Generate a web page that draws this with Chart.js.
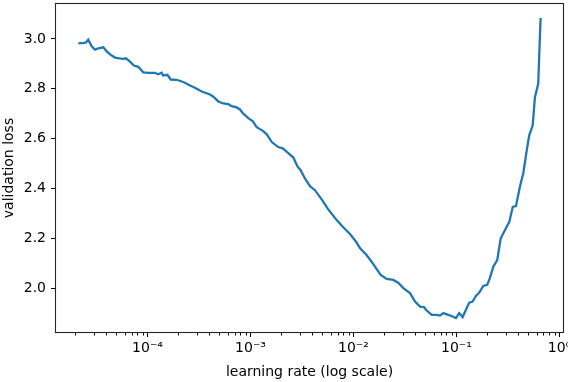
<!DOCTYPE html>
<html>
<head>
<meta charset="utf-8">
<script src="https://cdn.jsdelivr.net/npm/chart.js@4.4.1/dist/chart.umd.min.js"></script>
<style>
  html, body { margin: 0; padding: 0; background: #fff; }
  #lrChart { display: block; }
</style>
</head>
<body>
<canvas id="lrChart" width="568" height="382"></canvas>
<script>
// values
const learningRates = [
  2.13e-5, 2.42e-5, 2.53e-5, 2.66e-5, 2.87e-5, 3.09e-5, 3.33e-5, 3.72e-5, 4.02e-5, 4.33e-5,
  4.84e-5, 5.33e-5, 5.83e-5, 6.18e-5, 6.76e-5, 7.39e-5, 8.14e-5, 9.10e-5, 1.02e-4, 1.18e-4,
  1.27e-4, 1.37e-4, 1.42e-4, 1.56e-4, 1.68e-4, 1.92e-4, 2.15e-4, 2.31e-4, 2.59e-4, 2.89e-4,
  3.36e-4, 4.05e-4, 4.36e-4, 4.87e-4, 5.44e-4, 6.09e-4, 6.57e-4, 7.34e-4, 7.91e-4, 8.51e-4,
  9.53e-4, 1.05e-3, 1.15e-3, 1.33e-3, 1.44e-3, 1.61e-3, 1.86e-3, 2.06e-3, 2.33e-3, 2.61e-3,
  2.85e-3, 3.07e-3, 3.38e-3, 3.78e-3, 4.23e-3, 4.91e-3, 5.69e-3, 6.87e-3, 7.96e-3, 9.25e-3,
  1.06e-2, 1.16e-2, 1.34e-2, 1.50e-2, 1.68e-2, 1.84e-2, 2.10e-2, 2.43e-2, 2.72e-2, 3.05e-2,
  3.54e-2, 3.96e-2, 4.43e-2, 4.84e-2, 5.14e-2, 5.75e-2, 6.43e-2, 6.92e-2, 7.45e-2, 8.32e-2,
  9.18e-2, 9.89e-2, 0.1064, 0.1148, 0.1236, 0.1331, 0.1435, 0.1545, 0.1664, 0.182,
  0.199, 0.211, 0.228, 0.249, 0.269, 0.296, 0.326, 0.352, 0.378, 0.414,
  0.446, 0.481, 0.509, 0.550, 0.578, 0.622, 0.656
];
const validationLosses = [
  2.982, 2.984, 2.986, 2.997, 2.970, 2.957, 2.962, 2.966, 2.950, 2.938,
  2.925, 2.922, 2.920, 2.922, 2.909, 2.893, 2.888, 2.866, 2.864, 2.864,
  2.858, 2.864, 2.853, 2.856, 2.837, 2.836, 2.829, 2.824, 2.813, 2.804,
  2.789, 2.777, 2.768, 2.749, 2.741, 2.738, 2.730, 2.725, 2.717, 2.700,
  2.682, 2.670, 2.646, 2.630, 2.617, 2.586, 2.566, 2.561, 2.542, 2.524,
  2.489, 2.473, 2.440, 2.409, 2.393, 2.356, 2.316, 2.273, 2.244, 2.217,
  2.186, 2.160, 2.133, 2.106, 2.076, 2.053, 2.037, 2.033, 2.022, 2.000,
  1.980, 1.946, 1.926, 1.924, 1.910, 1.893, 1.893, 1.890, 1.900, 1.893,
  1.886, 1.880, 1.900, 1.884, 1.913, 1.942, 1.946, 1.969, 1.982, 2.009,
  2.013, 2.040, 2.086, 2.113, 2.200, 2.233, 2.266, 2.326, 2.329, 2.409,
  2.462, 2.553, 2.613, 2.653, 2.766, 2.820, 3.084
];
const xMajorTicks = [1e-4, 1e-3, 1e-2, 1e-1, 1];
const yTickValues = [2.0, 2.2, 2.4, 2.6, 2.8, 3.0];

const X_MIN = 1.265e-5;
const X_MAX = 1.107;
const Y_MIN = 1.82;
const Y_MAX = 3.144;
const FONT = 'DejaVu Sans';

// minor ticks 2..9 x 10^n inside the axis range
const xMinorTicks = [];
for (let e = -5; e <= 0; e++) {
  for (let m = 2; m <= 9; m++) {
    const v = m * Math.pow(10, e);
    if (v >= X_MIN && v <= X_MAX) xMinorTicks.push(v);
  }
}

function superscript(str) {
  const map = { '-': '\u207B', '0': '\u2070', '1': '\u00B9', '2': '\u00B2', '3': '\u00B3',
    '4': '\u2074', '5': '\u2075', '6': '\u2076', '7': '\u2077', '8': '\u2078', '9': '\u2079' };
  return str.split('').map(c => map[c] || c).join('');
}

// frame round the axes + short minor ticks, like matplotlib
const framePlugin = {
  id: 'frame',
  afterDraw(chart) {
    const { ctx, chartArea } = chart;
    const xScale = chart.scales.x;
    ctx.save();
    ctx.strokeStyle = '#000';
    ctx.lineWidth = 1;
    ctx.beginPath();
    xMinorTicks.forEach(v => {
      const px = Math.round(xScale.getPixelForValue(v)) + 0.5;
      ctx.moveTo(px, chartArea.bottom);
      ctx.lineTo(px, chartArea.bottom + 2.5);
    });
    ctx.stroke();
    ctx.strokeStyle = '#262626';
    ctx.lineWidth = 1.1;
    ctx.strokeRect(chartArea.left + 0.5, chartArea.top + 0.5,
      chartArea.right - chartArea.left - 1, chartArea.bottom - chartArea.top - 1);
    ctx.restore();
  }
};

Chart.defaults.font.family = FONT;
Chart.defaults.color = '#000';

const ctx = document.getElementById('lrChart').getContext('2d');
new Chart(ctx, {
  type: 'line',
  data: {
    datasets: [{
      label: 'validation loss',
      data: learningRates.map((lr, i) => ({ x: lr, y: validationLosses[i] })),
      borderColor: '#1f77b4',
      borderWidth: 2.3,
      pointRadius: 0,
      tension: 0,
      fill: false
    }]
  },
  options: {
    responsive: false,
    animation: false,
    layout: { padding: { top: 3, right: 4, left: 0, bottom: 0 } },
    plugins: {
      legend: { display: false },
      tooltip: { enabled: false }
    },
    scales: {
      x: {
        type: 'logarithmic',
        min: X_MIN,
        max: X_MAX,
        afterBuildTicks: scale => {
          scale.ticks = xMajorTicks.map(v => ({ value: v, major: true }));
        },
        afterFit: scale => {
          scale.height = 49;
          scale.paddingLeft = 0;
          scale.paddingRight = 0;
        },
        border: { display: false },
        grid: {
          display: true,
          drawOnChartArea: false,
          drawTicks: true,
          tickLength: 4,
          tickWidth: 1,
          tickColor: '#000'
        },
        ticks: {
          autoSkip: false,
          maxRotation: 0,
          padding: 3,
          font: { size: 14 },
          callback: v => '10' + superscript(String(Math.round(Math.log10(v))))
        },
        title: {
          display: true,
          text: 'learning rate (log scale)',
          font: { size: 14 },
          padding: { top: 0, bottom: 1 }
        }
      },
      y: {
        type: 'linear',
        min: Y_MIN,
        max: Y_MAX,
        afterBuildTicks: scale => {
          scale.ticks = yTickValues.map(v => ({ value: v }));
        },
        afterFit: scale => {
          scale.width = 55;
          scale.paddingTop = 0;
          scale.paddingBottom = 0;
        },
        border: { display: false },
        grid: {
          display: true,
          drawOnChartArea: false,
          drawTicks: true,
          tickLength: 4,
          tickWidth: 1,
          tickColor: '#000'
        },
        ticks: {
          padding: 5,
          font: { size: 14 },
          callback: v => v.toFixed(1)
        },
        title: {
          display: true,
          text: 'validation loss',
          font: { size: 14 },
          padding: { top: 1, bottom: 0 }
        }
      }
    }
  },
  plugins: [framePlugin]
});
</script>
</body>
</html>
